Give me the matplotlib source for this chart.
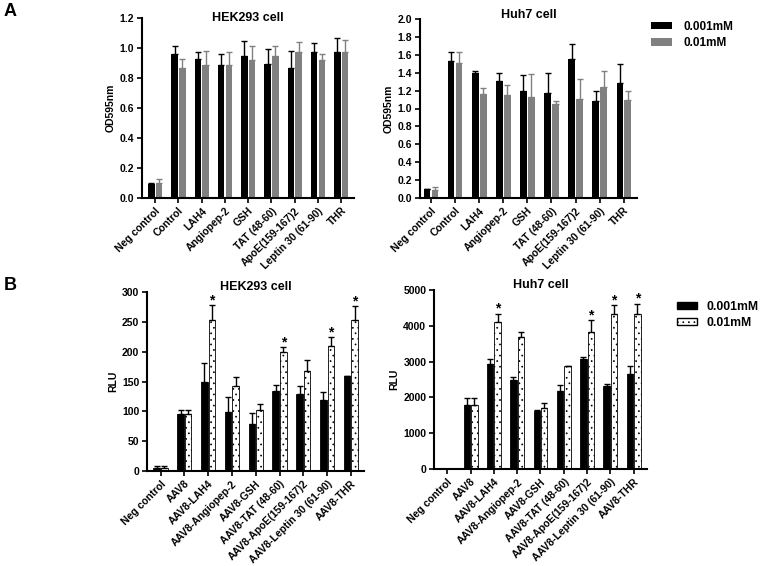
import numpy as np
import matplotlib.pyplot as plt
from matplotlib.patches import Patch

plt.rcParams['font.family'] = ['Liberation Sans', 'DejaVu Sans']
plt.rcParams['font.weight'] = 'bold'
plt.rcParams['hatch.linewidth'] = 0.5

# Panel A data (OD595nm)
cats_a = ['Neg control', 'Control', 'LAH4', 'Angiopep-2', 'GSH', 'TAT (48-60)',
          'ApoE(159-167)2', 'Leptin 30 (61-90)', 'THR']
hek_od_lo = [0.095, 0.96, 0.93, 0.885, 0.945, 0.895, 0.87, 0.975, 0.975]
hek_od_lo_err = [0.005, 0.055, 0.045, 0.075, 0.105, 0.10, 0.11, 0.06, 0.095]
hek_od_hi = [0.10, 0.87, 0.885, 0.89, 0.92, 0.945, 0.975, 0.92, 0.975]
hek_od_hi_err = [0.03, 0.055, 0.095, 0.085, 0.095, 0.07, 0.065, 0.04, 0.08]

huh_od_lo = [0.10, 1.53, 1.40, 1.31, 1.19, 1.17, 1.555, 1.085, 1.29]
huh_od_lo_err = [0.005, 0.10, 0.02, 0.09, 0.185, 0.225, 0.165, 0.115, 0.21]
huh_od_hi = [0.09, 1.51, 1.165, 1.155, 1.125, 1.045, 1.105, 1.24, 1.10]
huh_od_hi_err = [0.03, 0.12, 0.065, 0.105, 0.26, 0.04, 0.225, 0.18, 0.095]

# Panel B data (RLU)
cats_b = ['Neg control', 'AAV8', 'AAV8-LAH4', 'AAV8-Angiopep-2', 'AAV8-GSH',
          'AAV8-TAT (48-60)', 'AAV8-ApoE(159-167)2', 'AAV8-Leptin 30 (61-90)', 'AAV8-THR']
hek_rlu_lo = [5, 95, 150, 99, 79, 134, 129, 119, 159]
hek_rlu_lo_err = [3, 8, 31, 25, 18, 10, 14, 14, 1]
hek_rlu_hi = [5, 95, 253, 142, 102, 199, 167, 209, 253]
hek_rlu_hi_err = [3, 8, 25, 16, 10, 8, 19, 15, 24]
hek_star = [False, False, True, False, False, True, False, True, True]

huh_rlu_lo = [0, 1790, 2930, 2490, 1630, 2190, 3070, 2310, 2660]
huh_rlu_lo_err = [0, 200, 130, 70, 20, 150, 50, 70, 210]
huh_rlu_hi = [0, 1790, 4100, 3700, 1690, 2870, 3820, 4320, 4340]
huh_rlu_hi_err = [0, 200, 240, 120, 140, 20, 330, 270, 280]
huh_star = [False, False, True, False, False, False, True, True, True]

labels = ['0.001mM', '0.01mM']
gray = '#808080'

fig = plt.figure(figsize=(7.62, 5.66), dpi=100)
W, H = 762.0, 566.0


def make_ax(x0, x1, ytop, ybot):
    return fig.add_axes([x0 / W, 1 - ybot / H, (x1 - x0) / W, (ybot - ytop) / H])


def style(ax, cats, xlim, ylim, yticks, ylabel, title, title_y):
    ax.set_xlim(*xlim)
    ax.set_ylim(*ylim)
    ax.set_yticks(yticks)
    ax.set_xticks(np.arange(len(cats)))
    ax.set_xticklabels(cats, rotation=45, ha='right', rotation_mode='anchor', fontsize=7.5)
    for s in ['top', 'right']:
        ax.spines[s].set_visible(False)
    for s in ['left', 'bottom']:
        ax.spines[s].set_linewidth(1.5)
    ax.tick_params(direction='out', length=3.5, width=1.2, labelsize=7.5, pad=2)
    ax.set_ylabel(ylabel, fontsize=7.5, fontweight='bold', labelpad=3)
    ax.text(0.5, title_y, title, transform=ax.transAxes, ha='center', va='center',
            fontsize=9, fontweight='bold')


def bars_a(ax, lo, lo_err, hi, hi_err):
    x = np.arange(len(lo))
    w = 0.28
    ax.bar(x - 0.16, lo, w, color='black')
    ax.errorbar(x - 0.16, lo, yerr=[np.zeros(len(lo)), lo_err], fmt='none',
                ecolor='black', elinewidth=1, capsize=2, capthick=1)
    ax.bar(x + 0.17, hi, w, color=gray)
    ax.errorbar(x + 0.17, hi, yerr=[np.zeros(len(hi)), hi_err], fmt='none',
                ecolor=gray, elinewidth=1, capsize=2, capthick=1)


def bars_b(ax, lo, lo_err, hi, hi_err, stars):
    x = np.arange(len(lo))
    w = 0.28
    lo = np.array(lo)
    hi = np.array(hi)
    ax.bar(x - 0.16, lo, w, color='black', edgecolor='black', linewidth=0.6)
    ax.errorbar(x - 0.16, lo, yerr=[np.zeros(len(lo)), lo_err], fmt='none',
                ecolor='black', elinewidth=1, capsize=2, capthick=1)
    ax.bar(x + 0.16, hi, w, color='white', edgecolor='black', linewidth=0.6, hatch='...')
    ax.errorbar(x + 0.16, hi, yerr=[np.zeros(len(hi)), hi_err], fmt='none',
                ecolor='black', elinewidth=1, capsize=2, capthick=1)
    for i, s in enumerate(stars):
        if s:
            ax.annotate('*', (x[i] + 0.16, hi[i] + hi_err[i]), xytext=(0, 0.5),
                        textcoords='offset points', ha='center', va='baseline',
                        fontsize=10, fontweight='bold')


# Panel A left
ax1 = make_ax(142, 354, 18, 198)
bars_a(ax1, hek_od_lo, hek_od_lo_err, hek_od_hi, hek_od_hi_err)
style(ax1, cats_a, (-0.56, 8.55), (0, 1.2), np.arange(0, 1.21, 0.2), 'OD595nm',
      'HEK293 cell', 1.0)
ax1.yaxis.set_major_formatter(plt.FormatStrFormatter('%.1f'))

# Panel A right
ax2 = make_ax(420, 637, 19, 198)
bars_a(ax2, huh_od_lo, huh_od_lo_err, huh_od_hi, huh_od_hi_err)
style(ax2, cats_a, (-0.45, 8.55), (0, 2.0), np.arange(0, 2.01, 0.2), 'OD595nm',
      'Huh7 cell', 1.02)
ax2.yaxis.set_major_formatter(plt.FormatStrFormatter('%.1f'))

# Panel B left
ax3 = make_ax(147, 364, 292, 471)
bars_b(ax3, hek_rlu_lo, hek_rlu_lo_err, hek_rlu_hi, hek_rlu_hi_err, hek_star)
style(ax3, cats_b, (-0.57, 8.55), (0, 300), np.arange(0, 301, 50), 'RLU',
      'HEK293 cell', 1.03)

# Panel B right
ax4 = make_ax(434, 647, 290, 469)
bars_b(ax4, huh_rlu_lo, huh_rlu_lo_err, huh_rlu_hi, huh_rlu_hi_err, huh_star)
style(ax4, cats_b, (-0.57, 8.57), (0, 5000), np.arange(0, 5001, 1000), 'RLU',
      'Huh7 cell', 1.03)

# Legends
leg_a = [Patch(facecolor='black', label=labels[0]), Patch(facecolor=gray, label=labels[1])]
fig.legend(handles=leg_a, loc='upper left', bbox_to_anchor=(640 / W, 1 - 10 / H),
           frameon=False, prop={'size': 8.5, 'weight': 'bold'}, handlelength=1.8,
           handleheight=0.6, labelspacing=0.4, handletextpad=1.0)
leg_b = [Patch(facecolor='black', edgecolor='black', label=labels[0]),
         Patch(facecolor='white', edgecolor='black', hatch='...', label=labels[1])]
fig.legend(handles=leg_b, loc='upper left', bbox_to_anchor=(666 / W, 1 - 290 / H),
           frameon=False, prop={'size': 8.8, 'weight': 'bold'}, handlelength=1.6,
           handleheight=0.5, labelspacing=0.35, handletextpad=0.8)

fig.text(10 / W, 1 - 12 / H, 'A', fontsize=13, fontweight='bold', ha='center', va='center')
fig.text(10 / W, 1 - 286 / H, 'B', fontsize=13, fontweight='bold', ha='center', va='center')

fig.savefig('out.png', dpi=100)
